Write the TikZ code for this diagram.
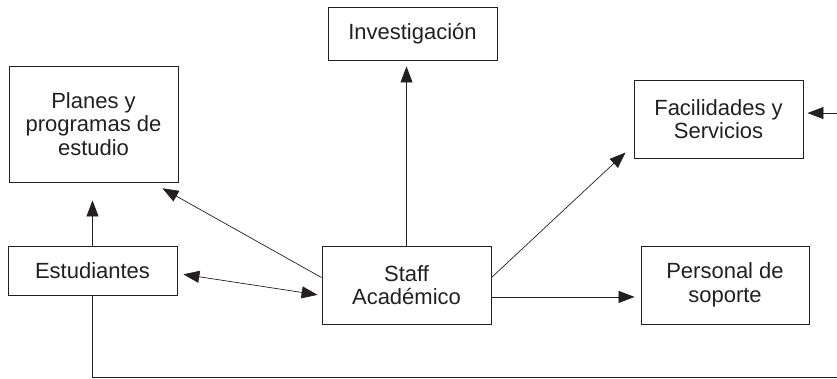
\documentclass[tikz,border=0pt]{standalone}
\usepackage{fontspec}
\setmainfont{Liberation Sans}
\usetikzlibrary{arrows.meta}
\definecolor{trazo}{RGB}{35,31,32}

\begin{document}
\begin{tikzpicture}[x=1pt, y=-1pt, >={Triangle[length=16pt,width=12pt]},
    caja/.style={draw=trazo, line width=0.9pt, minimum width=169pt, inner sep=0pt,
      align=center, text=trazo, font=\fontsize{22}{23.5}\selectfont},
    linea/.style={draw=trazo, line width=0.7pt}]
  % staff academico al centro, flechas hacia los demas
  \useasboundingbox (0,0) rectangle (837,379);
  \clip (0,0) rectangle (837,379);

  \node[caja, minimum height=116pt] (plan) at (93.5,124) {Planes y\\programas de\\estudio};
  \node[caja, minimum height=53pt] (inv) at (412.5,33.5) {Investigación};
  \node[caja, minimum height=78pt] (fac) at (718.5,119) {Facilidades y\\Servicios};
  \node[caja, minimum height=49pt] (est) at (92.5,270.5) {Estudiantes};
  \node[caja, minimum height=78pt] (staff) at (406.5,285) {Staff\\Académico};
  \node[caja, minimum height=78pt, minimum width=168pt] (pers) at (725,285) {Personal de\\soporte};

  \draw[linea, ->, shorten >=18pt] (est.north) -- (est.north |- plan.south);
  \draw[linea, ->, shorten >=12pt] (staff.175) -- (plan.-45);
  \draw[linea, <->, shorten <=6pt, shorten >=4pt] (est.-2) -- (staff.187);
  \draw[linea, ->, shorten >=6pt] (staff.north) -- (staff.north |- inv.south);
  \draw[linea, ->, shorten >=11pt] (staff.5) -- (fac.197);
  \draw[linea, ->, shorten >=6pt] (staff.-8) -- (staff.-8 -| pers.west);

  % lazo inferior que vuelve por la derecha
  \coordinate (esq) at (850,377);
  \draw[linea, ->, shorten >=4pt] (est.south) |- (esq) |- (fac.4);
\end{tikzpicture}
\end{document}
